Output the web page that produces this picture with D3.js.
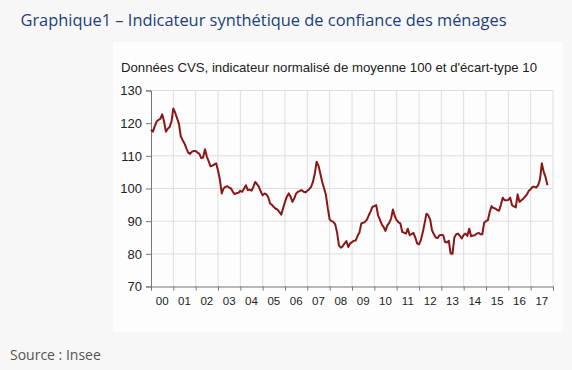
<!DOCTYPE html>
<html>
<head>
<meta charset="utf-8">
<script src="https://cdn.jsdelivr.net/npm/d3@7"></script>
<style>
html,body{margin:0;padding:0;background:#f7f7f7;}
svg{display:block;}
</style>
</head>
<body>
<svg id="chart" width="572" height="370"></svg>
<script>
const titleText = "Graphique1 – Indicateur synthétique de confiance des ménages";
const subtitleText = "Données CVS, indicateur normalisé de moyenne 100 et d'écart-type 10";
const sourceText = "Source : Insee";
const startYear = 2000;
const yearLabels = ["00","01","02","03","04","05","06","07","08","09","10","11","12","13","14","15","16","17"];
const yTicks = [70, 80, 90, 100, 110, 120, 130];
// Monthly values, Jan 2000 to Oct 2017
const v2000 = [118, 117.4, 119, 120.5, 121, 121.3, 122.7, 120.5, 117.4, 118.3, 118.8, 120.5];
const v2001 = [124.5, 123.2, 121.5, 119.8, 116, 114.8, 113.8, 112.3, 111, 110.6, 111.3, 111.5];
const v2002 = [111.5, 111, 110.6, 109.3, 109.5, 112, 109.8, 108.3, 106.8, 107, 107.4, 107.7];
const v2003 = [105.5, 102.8, 98.5, 100, 100.5, 100.7, 100.3, 100, 99, 98.3, 98.6, 98.7];
const v2004 = [99.3, 99, 100, 101, 99.5, 99.7, 99.3, 100.5, 102, 101.3, 100.5, 99];
const v2005 = [97.9, 98.5, 98.2, 97.3, 95.4, 95, 94.3, 93.8, 93.5, 92.8, 92, 94];
const v2006 = [95.9, 97.5, 98.5, 97.5, 95.9, 97, 98.5, 99, 99.3, 99.5, 99, 98.8];
const v2007 = [99.3, 99.8, 100.5, 102, 104.5, 108.2, 107, 104.5, 102, 100, 98, 93.9];
const v2008 = [90.5, 90, 89.8, 89, 86.5, 82.5, 81.9, 82.3, 83.2, 83.9, 82.1, 83.2];
const v2009 = [83.6, 84, 84.1, 85.5, 86.5, 89.3, 89.5, 89.8, 90.5, 91.8, 93, 94.4];
const v2010 = [94.6, 94.9, 91.8, 90.5, 89, 88.2, 87, 88.7, 89.5, 90.8, 93.6, 91.5];
const v2011 = [90.3, 89.6, 89.3, 86.7, 86.5, 86.2, 87.7, 85.7, 86, 86.4, 85, 83.2];
const v2012 = [82.9, 84.2, 86.5, 89.3, 92.3, 91.8, 90.5, 87.2, 86, 85, 84.8, 85.7];
const v2013 = [85.8, 85.7, 83.6, 83.5, 84, 80.1, 80, 85, 86, 86.2, 85.5, 84.7];
const v2014 = [85.8, 86.2, 85.5, 87.7, 85.4, 85.6, 85.7, 86.2, 86.4, 86, 86, 89.5];
const v2015 = [90, 90.3, 92.8, 94.6, 94, 93.9, 93.4, 93.2, 95, 97.2, 96.4, 96.4];
const v2016 = [96.5, 97.2, 94.9, 94.5, 94.2, 98.2, 95.9, 96.4, 96.9, 97.5, 98.2, 99.3];
const v2017 = [99.8, 100.5, 100.5, 100.3, 101, 102.8, 107.7, 105.1, 103.5, 101];

const values = [].concat(v2000,v2001,v2002,v2003,v2004,v2005,v2006,v2007,v2008,v2009,
  v2010,v2011,v2012,v2013,v2014,v2015,v2016,v2017);
const data = values.map((v,i)=>({t: startYear + i/12, v}));

const svg = d3.select("#chart");

svg.append("text").attr("x",20.5).attr("y",25.5)
  .attr("font-family","'Open Sans'").attr("font-size",16.4)
  .attr("fill","#1d3f7a").text(titleText);

svg.append("rect").attr("x",113).attr("y",42).attr("width",450).attr("height",290)
  .attr("fill","#fdfdfd");

svg.append("text").attr("x",121).attr("y",72)
  .attr("font-family","'Liberation Sans', Arial").attr("font-size",13.2)
  .attr("fill","#222").text(subtitleText);

svg.append("text").attr("x",10).attr("y",360)
  .attr("font-family","'Open Sans'").attr("font-size",14)
  .attr("fill","#555").text(sourceText);

const x = d3.scaleLinear().domain([2000, 2018]).range([151, 553]);
const y = d3.scaleLinear().domain([70, 130]).range([286.5, 90.5]);

const g = svg.append("g");
// grid
const yearTicks = d3.range(2000, 2019);
g.selectAll("line.vg").data(yearTicks.slice(1)).join("line")
  .attr("x1",d=>x(d)).attr("x2",d=>x(d)).attr("y1",y(130)).attr("y2",y(70))
  .attr("stroke","#dedede").attr("stroke-width",1);
g.selectAll("line.hg").data(yTicks.slice(1)).join("line")
  .attr("x1",x(2000)).attr("x2",x(2018)).attr("y1",d=>y(d)).attr("y2",d=>y(d))
  .attr("stroke","#dedede").attr("stroke-width",1);

// axes
const yAxis = d3.axisLeft(y).tickValues(yTicks).tickSize(5).tickPadding(4).tickFormat(d3.format("d"));
const ga = g.append("g").attr("transform",`translate(${x(2000)},0)`).call(yAxis);
ga.select(".domain").attr("stroke","#777");
ga.selectAll(".tick line").attr("stroke","#777");
ga.selectAll("text").attr("font-family","'Liberation Sans', Arial").attr("font-size",13).attr("fill","#222");

const xAxis = d3.axisBottom(x).tickValues(yearTicks).tickSize(4).tickFormat("");
const gx = g.append("g").attr("transform",`translate(0,${y(70)})`).call(xAxis);
gx.select(".domain").attr("stroke","#777");
gx.selectAll(".tick line").attr("stroke","#777");

g.selectAll("text.xl").data(yearLabels).join("text")
  .attr("x",(d,i)=>x(startYear+i+0.5)).attr("y",305)
  .attr("text-anchor","middle")
  .attr("font-family","'Liberation Sans', Arial").attr("font-size",11.5).attr("fill","#222")
  .text(d=>d);

const line = d3.line().x(d=>x(d.t)).y(d=>y(d.v));
g.append("path").datum(data).attr("d",line)
  .attr("fill","none").attr("stroke","#8a1717").attr("stroke-width",2)
  .attr("stroke-linejoin","round");
</script>
</body>
</html>
